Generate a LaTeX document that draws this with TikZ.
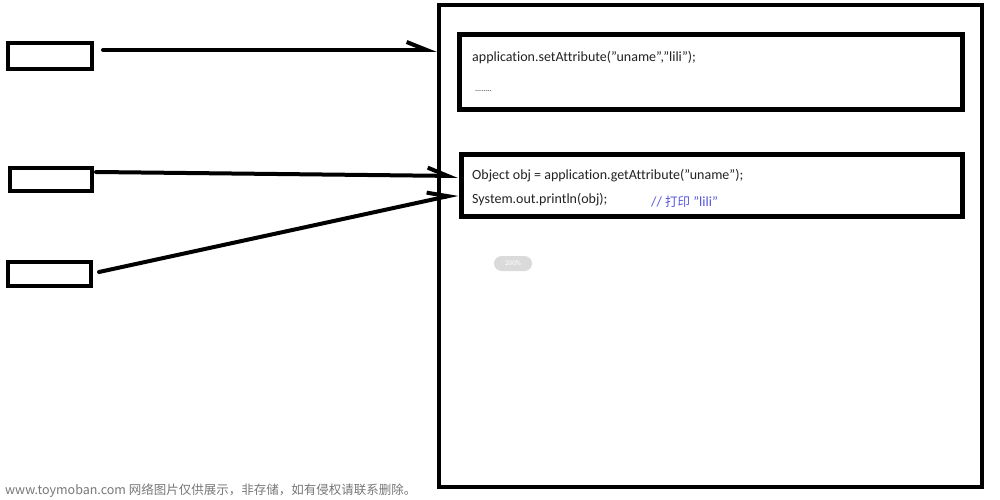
\documentclass[tikz,border=0pt]{standalone}
\usepackage{fontspec}
\setmainfont{Carlito}[Ligatures=NoCommon]
\newfontfamily\cjk{Noto Sans CJK SC}
\newcommand\dq{\char34\relax}
\usetikzlibrary{arrows.meta}
\definecolor{codetext}{RGB}{35,35,35}
\definecolor{cmtblue}{RGB}{85,85,225}
\definecolor{wmgray}{RGB}{120,120,120}
\definecolor{pillgray}{RGB}{218,218,218}
\tikzset{
  box/.style={draw=black, line width=4pt, rectangle, inner sep=0pt},
  inbox/.style={draw=black, line width=5pt, rectangle, inner sep=0pt},
  arr/.style={line width=4pt, line cap=round, -{Straight Barb[left,length=20pt,width=16pt,line width=4pt]}},
  code/.style={anchor=west, inner sep=0pt, font=\fontsize{14}{16}\selectfont, text=codetext},
}
\begin{document}
\begin{tikzpicture}[x=1pt,y=-1pt]
\useasboundingbox (0,0) rectangle (1000,500);
\fill[white] (0,0) rectangle (1000,500);
% left boxes
\node[box, minimum width=84pt, minimum height=26pt] (b1) at (50,56) {};
\node[box, minimum width=82pt, minimum height=23pt] (b2) at (51,179.5) {};
\node[box, minimum width=83pt, minimum height=24pt] (b3) at (49.5,274) {};
% big box
\node[box, minimum width=543pt, minimum height=482pt] (big) at (710.5,246) {};
% inner boxes
\node[inbox, minimum width=503pt, minimum height=75pt] (in1) at (711,72) {};
\node[inbox, minimum width=501pt, minimum height=62pt] (in2) at (712,185.5) {};
% texts
\node[code] (t1) at (472,57.5) {application.setAttribute(\dq uname\dq,\dq lili\dq);};
\node[code] (t2) at (475,91) {\fontsize{8}{9}\selectfont ........};
\node[code] (t3) at (472,176) {Object obj = application.getAttribute(\dq uname\dq);};
\node[code] (t4) at (472,200) {System.out.println(obj);};
\node[code, text=cmtblue] (t5) at (651,202) {// {\cjk\fontsize{12.5}{14}\selectfont 打印} \dq lili\dq};
% pill
\node[fill=pillgray, rounded corners=7.5pt, minimum width=38pt, minimum height=15pt, inner sep=0pt, text=white, font=\fontsize{7}{8}\selectfont] (pill) at (513,263.5) {200\%};
% arrows
\coordinate (e1) at (big.west |- 0,50);
\draw[arr] ([xshift=9pt,yshift=6pt]b1.east) -- (e1);
\draw[arr] ([xshift=2pt,yshift=7.5pt]b2.east) -- ([xshift=-1pt,yshift=9.5pt]in2.west);
\draw[arr] ([xshift=6pt,yshift=2pt]b3.east) -- ([xshift=-1pt,yshift=-8.5pt]in2.west);
% watermark
\node[anchor=west, inner sep=0pt, text=wmgray, font=\cjk\fontsize{12.5}{14}\selectfont] (wm) at (5,491) {www.toymoban.com 网络图片仅供展示，非存储，如有侵权请联系删除。};
\end{tikzpicture}
\end{document}
